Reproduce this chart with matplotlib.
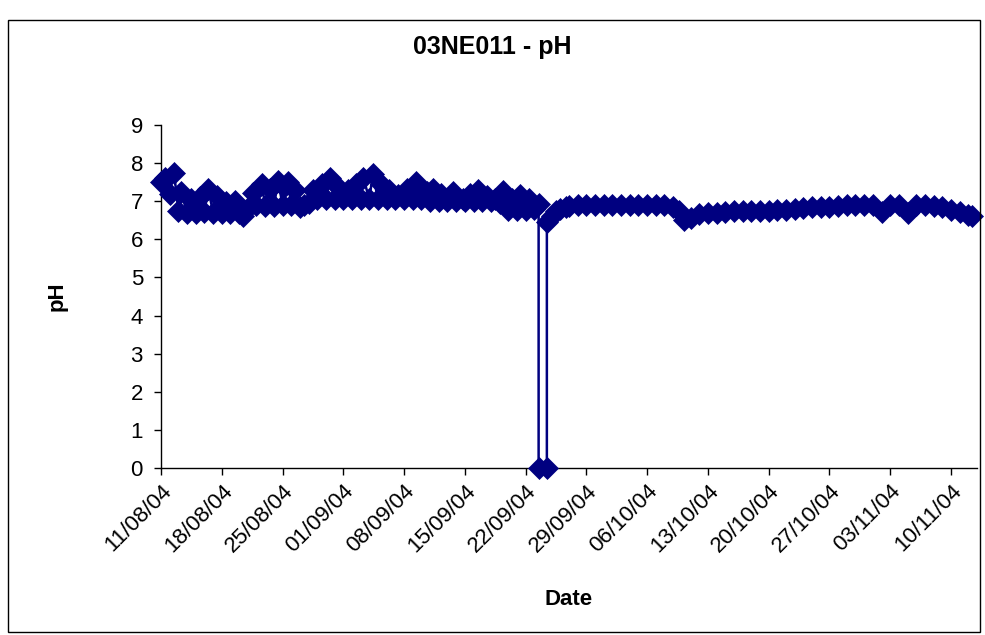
import datetime as dt

import matplotlib
matplotlib.use("Agg")
import matplotlib.dates as mdates
import matplotlib.pyplot as plt

plt.rcParams["font.family"] = ["Liberation Sans", "DejaVu Sans"]

START = dt.datetime(2004, 8, 11)
NAVY = "#000080"

# sample time, in days after 11/08/04, and the pH read at that time
days = [
    0.0, 0.5, 1.0, 1.5, 2.0, 2.3, 3.0, 3.5, 4.0, 4.5, 5.0, 5.45, 6.0, 6.4,
    7.0, 7.5, 8.0, 8.5, 9.0, 9.5, 10.0, 10.6, 11.0, 11.6, 12.0, 12.5, 13.0,
    13.5, 14.0, 14.2, 14.65, 15.0, 15.4, 16.0, 16.5, 17.0, 17.5, 18.0, 18.5,
    19.0, 19.45, 20.0, 20.2, 20.6, 21.0, 21.5, 22.0, 22.5, 23.0, 23.3, 24.0,
    24.4, 25.0, 25.4, 26.0, 26.3, 27.0, 27.3, 28.0, 28.3, 29.0, 29.4, 30.0,
    30.6, 31.0, 31.3, 32.0, 32.2, 33.0, 33.6, 34.0, 34.8, 35.0, 35.6, 36.0,
    36.5, 37.0, 37.5, 38.0, 38.5, 39.0, 39.4, 40.0, 40.4, 41.0, 41.3, 42.0,
    42.4, 42.7, 43.0, 43.5, 43.5, 44.45, 44.45, 45.0, 45.5, 46.0, 46.7,
    47, 48, 49, 50, 51, 52, 53, 54, 55, 56, 57, 58, 59, 59.7, 60.3, 61, 62,
    63, 64, 65, 66, 67, 68, 69, 70, 71, 72, 73, 74, 75, 76, 77, 78, 79, 80,
    81, 82, 83, 84, 85, 86, 87, 88, 89, 90, 91, 92, 93, 93.4,
]
ph = [
    7.50, 7.62, 7.20, 7.75, 6.75, 7.25, 6.70, 7.07, 6.70, 7.10, 6.72, 7.32, 6.70, 7.15,
    6.70, 6.98, 6.70, 7.00, 6.70, 6.62, 6.82, 7.22, 6.90, 7.46, 6.88, 7.32, 6.88,
    7.53, 6.90, 7.37, 7.50, 6.90, 7.30, 6.85, 6.90, 6.95, 7.29, 7.05, 7.45,
    7.05, 7.60, 7.05, 7.42, 7.20, 7.05, 7.30, 7.05, 7.45, 7.05, 7.62, 7.05,
    7.72, 7.05, 7.46, 7.05, 7.30, 7.05, 7.16, 7.05, 7.33, 7.05, 7.50, 7.05,
    7.24, 7.00, 7.31, 7.00, 7.18, 7.00, 7.24, 7.00, 7.07, 7.00, 7.18, 7.00,
    7.29, 7.00, 7.15, 7.00, 7.05, 6.95, 7.27, 6.78, 7.07, 6.78, 7.16, 6.78,
    7.05, 6.94, 6.80, 6.92, 0.00, 0.00, 6.45, 6.62, 6.75, 6.80, 6.84,
    6.88, 6.90, 6.90, 6.90, 6.90, 6.90, 6.90, 6.90, 6.90, 6.90, 6.90, 6.90, 6.86, 6.75, 6.52, 6.56, 6.66,
    6.68, 6.70, 6.72, 6.74, 6.75, 6.75, 6.75, 6.75, 6.76, 6.78, 6.80, 6.82, 6.84, 6.85, 6.86, 6.88, 6.90, 6.90,
    6.90, 6.90, 6.72, 6.90, 6.90, 6.70, 6.90, 6.90, 6.88, 6.84, 6.78, 6.72, 6.64, 6.62,
]

week_ticks = [START + dt.timedelta(days=7 * i) for i in range(14)]
x_end = START + dt.timedelta(days=94)

times = [START + dt.timedelta(days=d) for d in days]

fig = plt.figure(figsize=(9.85, 6.35), dpi=100)
ax = fig.add_axes([161 / 985, 1 - 468 / 635, (977 - 161) / 985, (468 - 125) / 635])

ax.plot(times, ph, color=NAVY, lw=1.8, marker="D", ms=11, mfc=NAVY, mec=NAVY,
        mew=0.5, clip_on=False, zorder=3)

ax.set_ylim(0, 9)
ax.set_yticks(range(10))
ax.set_xlim(START, x_end)
ax.set_xticks(week_ticks)
ax.xaxis.set_major_formatter(mdates.DateFormatter("%d/%m/%y"))

for side in ("top", "right"):
    ax.spines[side].set_visible(False)
for side in ("left", "bottom"):
    ax.spines[side].set_linewidth(1.0)

ax.tick_params(direction="out", length=5, width=1.0, labelsize=16, pad=8)
ax.tick_params(axis="x", pad=4)
for lab in ax.get_xticklabels():
    lab.set_rotation(45)
    lab.set_ha("right")
    lab.set_va("top")
    lab.set_rotation_mode("anchor")

ax.set_ylabel("pH", fontsize=16, weight="bold", labelpad=45)
ax.set_xlabel("Date", fontsize=16, weight="bold", labelpad=23)
fig.text(0.5, 1 - 47 / 635, "03NE011 - pH", ha="center", va="center",
         fontsize=18, weight="bold")

# chart area frame
fig.add_artist(plt.Rectangle((8 / 985, 1 - 632 / 635), 972 / 985, 612 / 635,
                             transform=fig.transFigure, fill=False,
                             ec="black", lw=1.0))

fig.savefig("out.png", dpi=100)
